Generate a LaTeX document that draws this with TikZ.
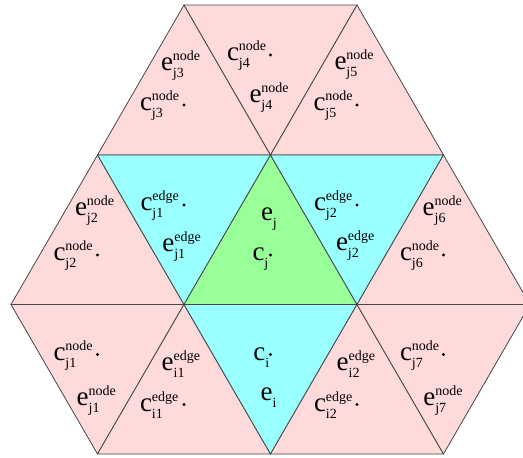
\documentclass[tikz,border=0pt]{standalone}
\usepackage{fontspec}
\setmainfont{Liberation Serif}
\newcommand\mainfs{\fontsize{27}{30}\selectfont}
\newcommand\scfs{\fontsize{14}{16}\selectfont}
\newcommand\tlab[3]{{\mainfs #1}\sbox0{\scfs #2}\sbox2{\scfs #3}\rlap{\raisebox{10pt}{\usebox0}}\rlap{\raisebox{-7pt}{\usebox2}}\kern\ifdim\wd0>\wd2 \wd0\else\wd2\fi\relax}
\definecolor{tpink}{RGB}{255,218,218}
\definecolor{tcyan}{RGB}{153,255,255}
\definecolor{tgreen}{RGB}{153,255,153}
\definecolor{tline}{RGB}{70,70,70}
\tikzset{
  tri/.style={draw=tline, line width=0.8pt, line join=round},
  lab/.style={anchor=base west, inner sep=0pt, outer sep=0pt},
  cdot/.style={circle, fill=black, inner sep=0pt, minimum size=3.4pt}
}
\begin{document}
\begin{tikzpicture}[x=1pt,y=-1pt]
\useasboundingbox (0,0) rectangle (523,458);
% vertices
\coordinate (a1) at (184,5);   \coordinate (a2) at (357,5);
\coordinate (b0) at (97.5,155); \coordinate (b1) at (270.5,155); \coordinate (b2) at (443.5,155);
\coordinate (c0) at (11,304.5); \coordinate (c1) at (184,304.5); \coordinate (c2) at (357,304.5); \coordinate (c3) at (530,304.5);
\coordinate (d0) at (97.5,454); \coordinate (d1) at (270.5,454); \coordinate (d2) at (443.5,454);
% triangles
\filldraw[tri, fill=tpink] (b0) -- (a1) -- (b1) -- cycle;
\filldraw[tri, fill=tpink] (a1) -- (a2) -- (b1) -- cycle;
\filldraw[tri, fill=tpink] (b1) -- (a2) -- (b2) -- cycle;
\filldraw[tri, fill=tpink] (c0) -- (b0) -- (c1) -- cycle;
\filldraw[tri, fill=tcyan] (b0) -- (b1) -- (c1) -- cycle;
\filldraw[tri, fill=tgreen] (c1) -- (b1) -- (c2) -- cycle;
\filldraw[tri, fill=tcyan] (b1) -- (b2) -- (c2) -- cycle;
\filldraw[tri, fill=tpink] (c2) -- (b2) -- (c3) -- cycle;
\filldraw[tri, fill=tpink] (c0) -- (c1) -- (d0) -- cycle;
\filldraw[tri, fill=tpink] (d0) -- (c1) -- (d1) -- cycle;
\filldraw[tri, fill=tcyan] (c1) -- (c2) -- (d1) -- cycle;
\filldraw[tri, fill=tpink] (d1) -- (c2) -- (d2) -- cycle;
\filldraw[tri, fill=tpink] (c2) -- (c3) -- (d2) -- cycle;
% top row
\node[lab] (ej3) at (161,70) {\tlab{e}{node}{j3}};
\node[lab] (cj3) at (140,110) {\tlab{c}{node}{j3}};
\node[cdot] (dj3) at (184,105) {};
\node[lab] (cj4) at (227,60) {\tlab{c}{node}{j4}};
\node[cdot] (dj4) at (270.5,55) {};
\node[lab] (ej4) at (249.5,102) {\tlab{e}{node}{j4}};
\node[lab] (ej5) at (334.5,69.5) {\tlab{e}{node}{j5}};
\node[lab] (cj5) at (313.5,110) {\tlab{c}{node}{j5}};
\node[cdot] (dj5) at (357,105) {};
% middle row
\node[lab] (ej2) at (75,215) {\tlab{e}{node}{j2}};
\node[lab] (cj2) at (53.5,260) {\tlab{c}{node}{j2}};
\node[cdot] (dj2) at (97.5,255) {};
\node[lab] (cj1e) at (140.5,210) {\tlab{c}{edge}{j1}};
\node[cdot] (dj1e) at (184,205) {};
\node[lab] (ej1e) at (162.3,251) {\tlab{e}{edge}{j1}};
\node[lab] (ej) at (261,220) {\tlab{e}{}{j}};
\node[lab] (cj) at (252.5,260) {\tlab{c}{}{j}};
\node[cdot] (dj) at (270.5,255) {};
\node[lab] (cj2e) at (314,210) {\tlab{c}{edge}{j2}};
\node[cdot] (dj2e) at (357,205) {};
\node[lab] (ej2e) at (336,250) {\tlab{e}{edge}{j2}};
\node[lab] (ej6) at (422.7,215) {\tlab{e}{node}{j6}};
\node[lab] (cj6) at (400,260) {\tlab{c}{node}{j6}};
\node[cdot] (dj6) at (443.5,255) {};
% bottom row
\node[lab] (cj1) at (53.5,360) {\tlab{c}{node}{j1}};
\node[cdot] (dj1) at (97.5,354.5) {};
\node[lab] (ej1) at (76.7,405) {\tlab{e}{node}{j1}};
\node[lab] (ei1e) at (161.7,370) {\tlab{e}{edge}{i1}};
\node[lab] (ci1e) at (140,411) {\tlab{c}{edge}{i1}};
\node[cdot] (di1e) at (184,404.5) {};
\node[lab] (ci) at (253.3,360) {\tlab{c}{}{i}};
\node[cdot] (di) at (270.5,354.5) {};
\node[lab] (ei) at (260.7,400) {\tlab{e}{}{i}};
\node[lab] (ei2e) at (336.7,370) {\tlab{e}{edge}{i2}};
\node[lab] (ci2e) at (314,411) {\tlab{c}{edge}{i2}};
\node[cdot] (di2e) at (357,404.5) {};
\node[lab] (cj7) at (400,360) {\tlab{c}{node}{j7}};
\node[cdot] (dj7) at (443.5,354.5) {};
\node[lab] (ej7) at (423.3,405) {\tlab{e}{node}{j7}};
\end{tikzpicture}
\end{document}
